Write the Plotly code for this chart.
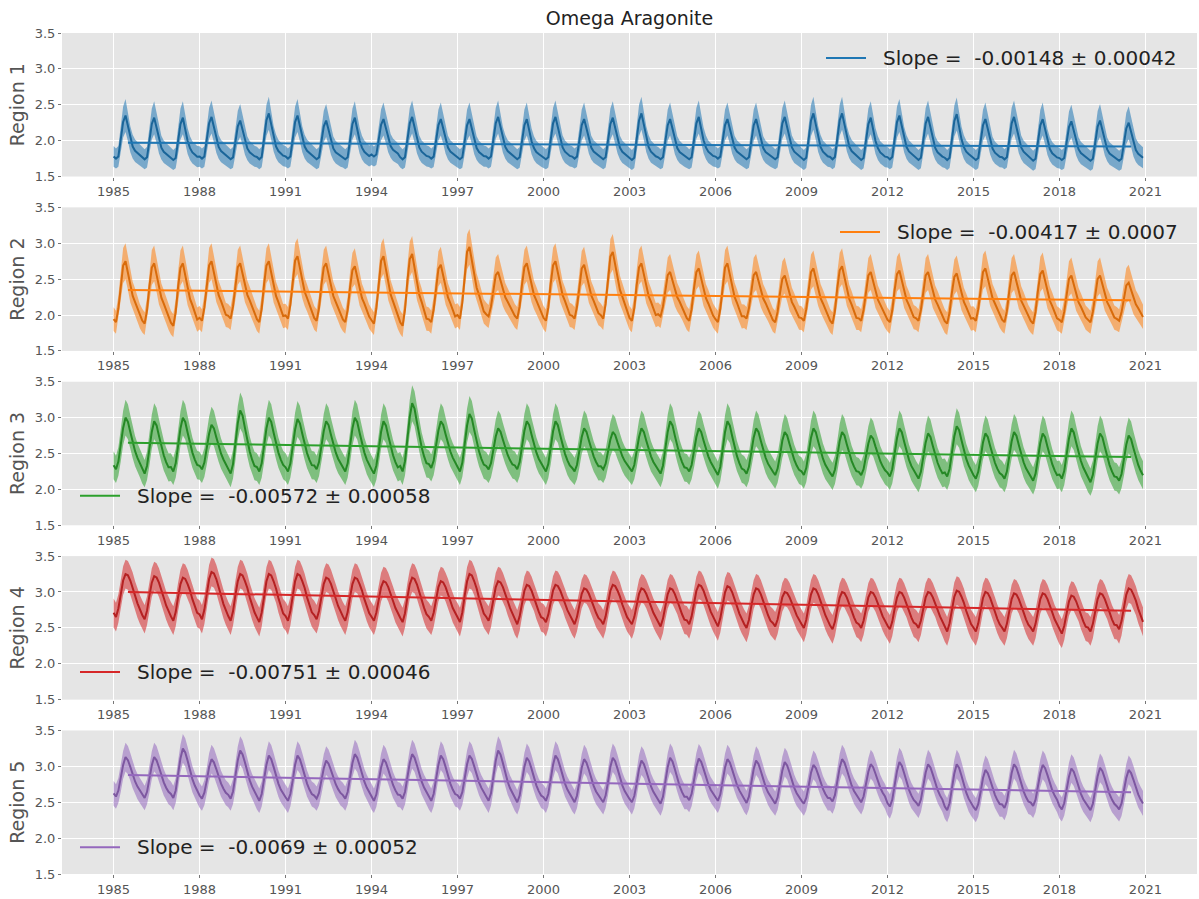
import numpy as np
import plotly.graph_objects as go
from plotly.subplots import make_subplots

# ---- data -------------------------------------------------------------
years = list(range(1985, 2021))
tick_years = list(range(1985, 2022, 3))
region_names = ["Region 1", "Region 2", "Region 3", "Region 4", "Region 5"]
colors = ["#1f77b4", "#ff7f0e", "#2ca02c", "#d62728", "#9467bd"]

# yearly seasonal maxima of the regional mean (one per year 1985-2020)
peak_r1 = [2.35, 2.32, 2.32, 2.33, 2.28, 2.38, 2.35, 2.28, 2.32, 2.30, 2.33, 2.30,
           2.30, 2.33, 2.30, 2.33, 2.30, 2.32, 2.38, 2.30, 2.33, 2.30, 2.30, 2.33,
           2.38, 2.38, 2.32, 2.35, 2.33, 2.37, 2.30, 2.33, 2.30, 2.27, 2.28, 2.25]
peak_r2 = [2.75, 2.72, 2.72, 2.75, 2.72, 2.75, 2.82, 2.72, 2.68, 2.82, 2.85, 2.70,
           2.95, 2.60, 2.72, 2.75, 2.70, 2.88, 2.72, 2.60, 2.65, 2.72, 2.60, 2.55,
           2.65, 2.68, 2.60, 2.62, 2.60, 2.58, 2.65, 2.60, 2.62, 2.55, 2.55, 2.45]
peak_r3 = [3.00, 2.95, 3.00, 2.90, 3.10, 3.00, 2.98, 2.95, 3.00, 2.95, 3.20, 2.95,
           3.05, 2.85, 2.95, 2.95, 2.85, 2.80, 2.85, 2.95, 2.85, 2.95, 2.85, 2.80,
           2.85, 2.80, 2.75, 2.85, 2.78, 2.88, 2.78, 2.80, 2.78, 2.85, 2.78, 2.75]
peak_r4 = [3.25, 3.22, 3.20, 3.28, 3.25, 3.25, 3.25, 3.20, 3.20, 3.15, 3.20, 3.15,
           3.25, 3.15, 3.10, 3.10, 3.05, 3.10, 3.05, 3.05, 3.10, 3.08, 3.05, 3.00,
           3.05, 3.00, 3.00, 3.00, 3.00, 3.02, 3.00, 2.98, 2.98, 2.95, 2.98, 3.05]
peak_r5 = [3.13, 3.13, 3.25, 3.10, 3.22, 3.15, 3.15, 3.08, 3.17, 3.10, 3.17, 3.15,
           3.15, 3.22, 3.12, 3.15, 3.10, 3.12, 3.08, 3.12, 3.11, 3.10, 3.08, 3.06,
           3.02, 3.10, 3.03, 3.06, 3.03, 3.03, 2.95, 3.03, 3.02, 2.97, 2.98, 2.95]

# yearly seasonal minima of the regional mean
trough_r1 = [1.75, 1.74, 1.73, 1.75, 1.74, 1.74, 1.75, 1.74, 1.74, 1.78, 1.74, 1.75,
             1.74, 1.75, 1.74, 1.74, 1.75, 1.74, 1.73, 1.74, 1.74, 1.75, 1.74, 1.74,
             1.73, 1.74, 1.73, 1.74, 1.73, 1.73, 1.73, 1.74, 1.72, 1.73, 1.72, 1.72]
trough_r2 = [1.90, 1.88, 1.85, 1.92, 1.95, 1.90, 1.95, 1.92, 1.90, 1.88, 1.85, 1.90,
             1.95, 1.98, 1.95, 1.92, 1.95, 1.95, 1.92, 1.98, 1.92, 1.90, 1.95, 1.90,
             1.92, 1.88, 1.92, 1.90, 1.92, 1.88, 1.92, 1.90, 1.88, 1.90, 1.90, 1.92]
trough_r3 = [2.28, 2.22, 2.25, 2.28, 2.22, 2.25, 2.25, 2.28, 2.25, 2.22, 2.25, 2.30,
             2.25, 2.28, 2.28, 2.25, 2.25, 2.28, 2.25, 2.22, 2.25, 2.20, 2.22, 2.20,
             2.20, 2.18, 2.20, 2.18, 2.15, 2.18, 2.15, 2.15, 2.12, 2.15, 2.10, 2.12]
trough_r4 = [2.65, 2.62, 2.60, 2.62, 2.60, 2.58, 2.60, 2.62, 2.60, 2.60, 2.58, 2.60,
             2.58, 2.60, 2.55, 2.58, 2.55, 2.55, 2.55, 2.52, 2.55, 2.52, 2.50, 2.52,
             2.50, 2.48, 2.50, 2.48, 2.50, 2.45, 2.45, 2.45, 2.45, 2.42, 2.45, 2.48]
trough_r5 = [2.58, 2.56, 2.56, 2.55, 2.55, 2.52, 2.52, 2.55, 2.55, 2.52, 2.55, 2.52,
             2.55, 2.52, 2.50, 2.52, 2.50, 2.50, 2.50, 2.48, 2.53, 2.52, 2.49, 2.48,
             2.48, 2.51, 2.50, 2.44, 2.45, 2.39, 2.39, 2.42, 2.45, 2.40, 2.39, 2.40]

# monthly position within the seasonal cycle (0 = minimum, 1 = maximum), Jan..Dec
cycle_r1 = [0.05, 0.00, 0.05, 0.40, 0.85, 1.00, 0.75, 0.45, 0.28, 0.18, 0.13, 0.08]
cycle_r2 = [0.05, 0.00, 0.22, 0.62, 0.93, 1.00, 0.80, 0.57, 0.43, 0.33, 0.22, 0.10]
cycle_r3 = [0.08, 0.00, 0.15, 0.45, 0.80, 1.00, 0.92, 0.72, 0.52, 0.35, 0.22, 0.12]
cycle_r4 = [0.10, 0.00, 0.20, 0.55, 0.85, 1.00, 0.97, 0.85, 0.70, 0.50, 0.32, 0.18]
cycle_r5 = [0.08, 0.00, 0.15, 0.45, 0.80, 1.00, 0.92, 0.75, 0.55, 0.38, 0.25, 0.15]

# half-width of the shaded spread at the seasonal minimum / maximum
spread_low = [0.14, 0.16, 0.19, 0.20, 0.17]
spread_high = [0.23, 0.25, 0.25, 0.20, 0.20]

# linear trends: slope (per year), its uncertainty, value at the first annual mean
slopes = [-0.00148, -0.00417, -0.00572, -0.00751, -0.0069]
slope_err = ["0.00042", "0.0007", "0.00058", "0.00046", "0.00052"]
trend_start = [1.97, 2.35, 2.65, 3.00, 2.88]
trend_years = [1985.5, 2020.5]

peaks = [peak_r1, peak_r2, peak_r3, peak_r4, peak_r5]
troughs = [trough_r1, trough_r2, trough_r3, trough_r4, trough_r5]
cycles = [cycle_r1, cycle_r2, cycle_r3, cycle_r4, cycle_r5]

# ---- figure -------------------------------------------------------------
W, H = 1199, 899
M_L, M_R, M_T, M_B = 62, 2, 33, 21
plot_w = W - M_L - M_R
plot_h = H - M_T - M_B
gap = 31

fig = make_subplots(rows=5, cols=1, shared_xaxes=False,
                    vertical_spacing=gap / plot_h)

FONT = "DejaVu Sans"


def rgba(hexcol, a):
    h = hexcol.lstrip("#")
    r, g, b = int(h[0:2], 16), int(h[2:4], 16), int(h[4:6], 16)
    return f"rgba({r},{g},{b},{a})"


def darker(hexcol, f):
    h = hexcol.lstrip("#")
    r, g, b = [int(int(h[i:i + 2], 16) * f) for i in (0, 2, 4)]
    return f"rgb({r},{g},{b})"


def px_x(p):
    return (p - M_L) / plot_w


def px_y(p):
    return 1 - (p - M_T) / plot_h


# legend key placement per panel, in pixels: (line start, line end, y)
legend_key = [(826, 866, 58), (840, 880, 233), (80, 120, 498),
              (80, 120, 675), (80, 120, 851)]

for i in range(5):
    row = i + 1
    col = colors[i]
    xs, mean, lo, hi = [], [], [], []
    for k, yr in enumerate(years):
        pk, tr = peaks[i][k], troughs[i][k]
        for m, c in enumerate(cycles[i]):
            v = tr + (pk - tr) * c
            s = spread_low[i] + (spread_high[i] - spread_low[i]) * c
            xs.append(yr + m / 12.0)
            mean.append(v)
            lo.append(v - s)
            hi.append(v + s)

    fig.add_trace(go.Scatter(x=xs + xs[::-1], y=hi + lo[::-1], fill="toself",
                             fillcolor=rgba(col, 0.55), line=dict(width=0),
                             hoverinfo="skip", showlegend=False), row=row, col=1)
    fig.add_trace(go.Scatter(x=xs, y=mean, mode="lines",
                             line=dict(color=darker(col, 0.85), width=2),
                             showlegend=False), row=row, col=1)

    ty = [trend_start[i] + slopes[i] * (t - trend_years[0]) for t in trend_years]
    label = f"Slope = \u00a0{slopes[i]} \u00b1 {slope_err[i]}"
    fig.add_trace(go.Scatter(x=trend_years, y=ty, mode="lines",
                             line=dict(color=col, width=2),
                             name=label, showlegend=False), row=row, col=1)

    # legend key: short line sample + label
    x0, x1, yk = legend_key[i]
    fig.add_shape(type="line", xref="paper", yref="paper",
                  x0=px_x(x0), x1=px_x(x1), y0=px_y(yk), y1=px_y(yk),
                  line=dict(color=col, width=2))
    fig.add_annotation(xref="paper", yref="paper", x=px_x(x1 + 15), y=px_y(yk),
                       xanchor="left", yanchor="middle", showarrow=False,
                       text=label, font=dict(family=FONT, size=20, color="#222"))

    fig.update_xaxes(row=row, col=1, range=[1983.2, 2022.8],
                     tickvals=tick_years, ticktext=[str(t) for t in tick_years],
                     showgrid=True, gridcolor="white", gridwidth=1,
                     zeroline=False, showline=False,
                     ticks="outside", ticklen=3, tickcolor="#777",
                     tickfont=dict(family=FONT, size=13, color="#555"))
    fig.update_yaxes(row=row, col=1, range=[1.5, 3.5],
                     tickvals=[1.5, 2.0, 2.5, 3.0, 3.5], tickformat=".1f",
                     showgrid=True, gridcolor="white", gridwidth=1,
                     zeroline=False, showline=False,
                     ticks="outside", ticklen=3, tickcolor="#777",
                     tickfont=dict(family=FONT, size=13, color="#555"),
                     title=dict(text=region_names[i], standoff=5,
                                font=dict(family=FONT, size=19, color="#555")))

fig.update_layout(
    width=W, height=H,
    margin=dict(l=M_L, r=M_R, t=M_T, b=M_B),
    paper_bgcolor="white",
    plot_bgcolor="#e5e5e5",
    font=dict(family=FONT, color="#555"),
    title=dict(text="Omega Aragonite", x=(M_L + plot_w / 2) / W,
               xanchor="center", y=1 - 18 / H, yanchor="middle",
               font=dict(family=FONT, size=19, color="#222")),
    showlegend=False,
)

fig.write_html("out.html")
